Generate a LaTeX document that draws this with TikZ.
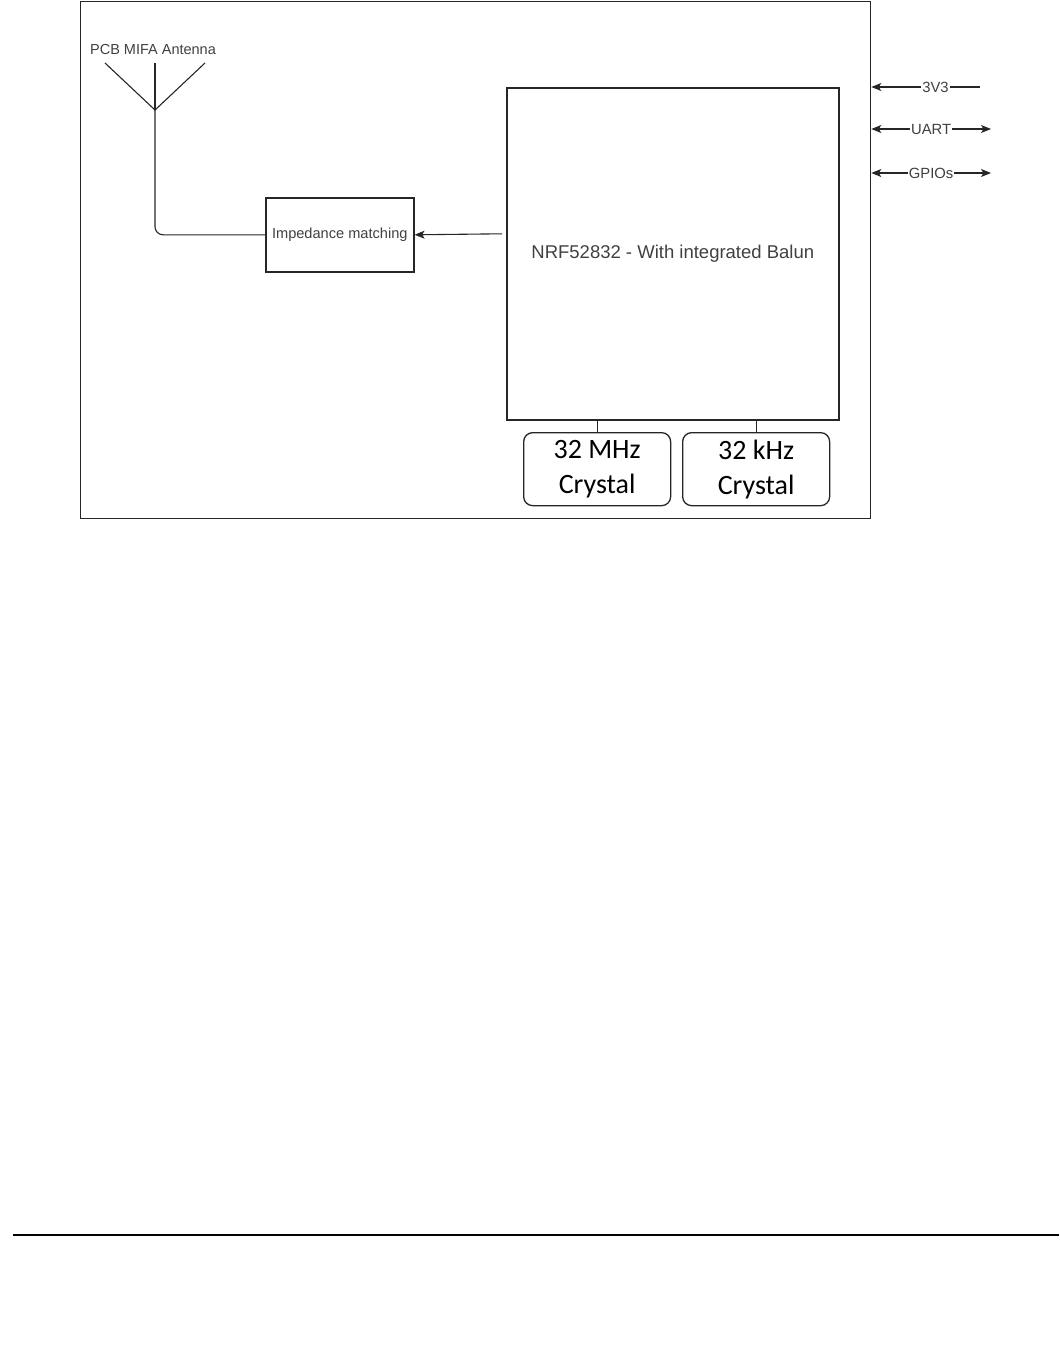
\documentclass[tikz,border=0pt]{standalone}
\usepackage{fontspec}
\setmainfont{Liberation Sans}
\newfontfamily\calibri{Carlito}
\usetikzlibrary{positioning,calc,arrows.meta}

\tikzset{
  blk/.style={draw=black!85, line width=1.6pt, inner sep=0pt, text=black!75},
  xtal/.style={draw=black!85, line width=1.3pt, rounded corners=9pt,
               minimum width=147pt, minimum height=73pt, align=center,
               font=\calibri\fontsize{28}{35}\selectfont, inner sep=0pt},
  wire/.style={draw=black!85, line width=1.1pt},
  tip/.tip={Stealth[length=10pt,width=8pt,inset=2.5pt]},
  sig/.style={fill=white, inner sep=1pt, font=\fontsize{14.8}{17}\selectfont, text=black!75},
}

\begin{document}
\begin{tikzpicture}[x=1pt,y=-1pt]
\useasboundingbox (0,0) rectangle (1060,1363);
% outer board
\node[blk, line width=1.3pt, minimum width=790pt, minimum height=517pt,
      anchor=north west] (board) at (80,1) {};
% blocks
\node[blk, minimum width=332pt, minimum height=332pt, anchor=north west,
      font=\fontsize{18.5}{22}\selectfont] (nrf) at (506,87)
  {NRF52832 - With integrated Balun};
\node[blk, minimum width=148pt, minimum height=74pt, anchor=north west,
      font=\fontsize{14.6}{17}\selectfont] (imp) at (265,197)
  {Impedance matching};
\node[xtal, anchor=north west] (xtal1) at (523,432) {32 MHz\\Crystal};
\node[xtal, anchor=north west] (xtal2) at (682,432) {32 kHz\\Crystal};
% antenna
\coordinate (ant) at (155,110);
\node[text=black!75, font=\fontsize{14.5}{17}\selectfont] (antlbl) at (153,50) {PCB MIFA Antenna};
\draw[wire] (105,63) -- (ant) -- (205,63);
\draw[wire] (155,63) -- (ant);
\draw[wire, rounded corners=8pt] (ant) -- (ant |- imp.west) -- (imp.west);
\draw[wire, -tip] ([xshift=-4pt,yshift=20pt]nrf.west) -- (imp.east);
\draw[wire] (xtal1.north) -- (xtal1.north |- nrf.south);
\draw[wire] (xtal2.north) -- (xtal2.north |- nrf.south);
% off-board signals
\coordinate (p3v3) at (980,87);
\coordinate (puart) at (991,129);
\coordinate (pgpio) at (991,173);
\draw[wire, -tip] (p3v3) -- (board.east |- p3v3)
  node[sig, pos=0.41] {3V3};
\draw[wire, tip-tip] (board.east |- puart) -- (puart) node[sig, pos=0.5] {UART};
\draw[wire, tip-tip] (board.east |- pgpio) -- (pgpio) node[sig, pos=0.5] {GPIOs};
% page rule
\draw[line width=2pt] (13,1235) -- (1059,1235);
\end{tikzpicture}
\end{document}
